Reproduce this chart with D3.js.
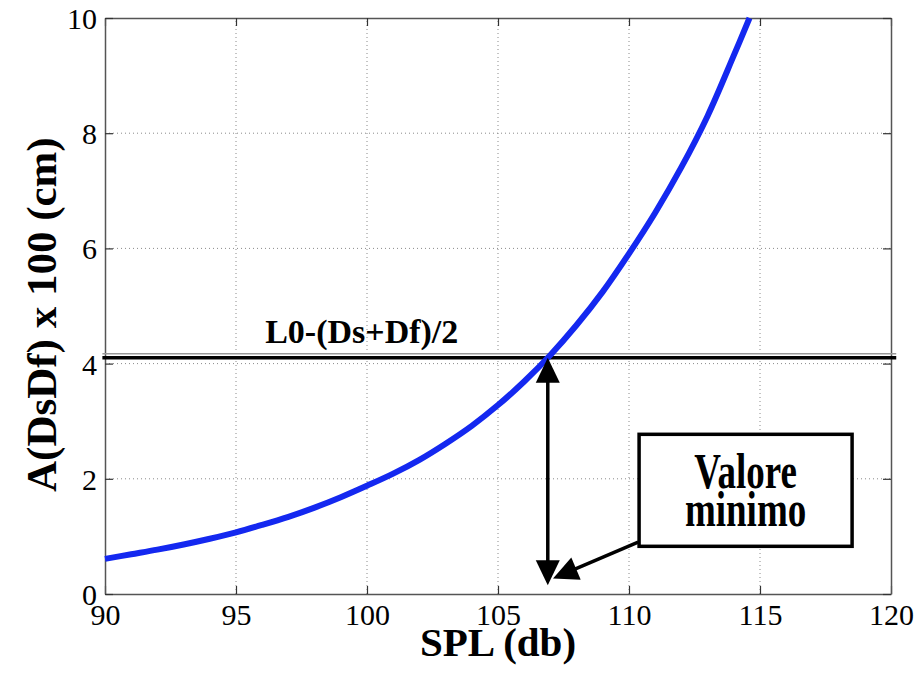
<!DOCTYPE html>
<html>
<head>
<meta charset="utf-8">
<script src="https://cdn.jsdelivr.net/npm/d3@7"></script>
<style>
  body { margin: 0; background: #fff; }
  svg { display: block; }
</style>
</head>
<body>
<script>
// values
let splValues = [90, 91, 92, 93, 94, 95, 96, 97, 98, 99, 100, 101, 102, 103, 104, 105, 106, 107, 108, 109, 110, 111, 112, 113, 114, 114.6];
let aValues   = [0.61, 0.69, 0.77, 0.86, 0.96, 1.07, 1.20, 1.34, 1.50, 1.68, 1.88, 2.09, 2.33, 2.61, 2.92, 3.28, 3.69, 4.15, 4.67, 5.25, 5.91, 6.62, 7.41, 8.30, 9.35, 10.0];
let xTicks = [90, 95, 100, 105, 110, 115, 120];
let yTicks = [0, 2, 4, 6, 8, 10];
let levelValue = 4.1;
let levelLabel = "L0-(Ds+Df)/2";
let minimoX = 106.9;
let minimoRange = [4.1, 0.15];
let boxCenter = [114.45, 1.8];
let boxLines = ["Valore", "minimo"];
let pointerFrom = [110.35, 0.9];
let pointerTo = [107.1, 0.27];

function main() {
    let W = 920, H = 678;
    let margin = {left: 105, right: 29, top: 18, bottom: 84};
    let width = W - margin.left - margin.right;
    let height = H - margin.top - margin.bottom;
    let serif = "'Liberation Serif', 'Times New Roman', serif";

    let svg = d3.select("body").append("svg")
        .attr("width", W)
        .attr("height", H);

    let x = d3.scaleLinear().domain([90, 120]).range([margin.left, margin.left + width]);
    let y = d3.scaleLinear().domain([0, 10]).range([margin.top + height, margin.top]);

    // grid
    let grid = svg.append("g");
    grid.selectAll(".vg")
        .data(xTicks.slice(1, -1))
        .enter().append("line")
        .attr("x1", d => x(d)).attr("x2", d => x(d))
        .attr("y1", y(0)).attr("y2", y(10))
        .attr("stroke", "#8a8a8a").attr("stroke-width", 1)
        .attr("stroke-dasharray", "1,3");
    grid.selectAll(".hg")
        .data(yTicks.slice(1, -1))
        .enter().append("line")
        .attr("y1", d => y(d)).attr("y2", d => y(d))
        .attr("x1", x(90)).attr("x2", x(120))
        .attr("stroke", "#8a8a8a").attr("stroke-width", 1)
        .attr("stroke-dasharray", "1,3");

    // axes
    let xAxis = svg.append("g")
        .attr("transform", "translate(0," + y(0) + ")")
        .call(d3.axisBottom(x).tickValues(xTicks).tickSizeInner(-8).tickSizeOuter(0).tickPadding(10));
    let xAxisTop = svg.append("g")
        .attr("transform", "translate(0," + y(10) + ")")
        .call(d3.axisTop(x).tickValues(xTicks).tickSizeInner(-8).tickSizeOuter(0).tickFormat(""));
    let yAxis = svg.append("g")
        .attr("transform", "translate(" + x(90) + ",0)")
        .call(d3.axisLeft(y).tickValues(yTicks).tickSizeInner(-8).tickSizeOuter(0).tickPadding(8));
    let yAxisRight = svg.append("g")
        .attr("transform", "translate(" + x(120) + ",0)")
        .call(d3.axisRight(y).tickValues(yTicks).tickSizeInner(-8).tickSizeOuter(0).tickFormat(""));

    [xAxis, xAxisTop, yAxis, yAxisRight].forEach(function(g) {
        g.attr("font-family", null).attr("font-size", null);
        g.select(".domain").attr("stroke", "#555").attr("stroke-width", 1.5);
        g.selectAll(".tick line").attr("stroke", "#333").attr("stroke-width", 1.2);
        g.selectAll("text")
            .style("font-family", serif)
            .style("font-size", "30px")
            .attr("fill", "#000");
    });
    xAxis.selectAll("text").attr("dy", "0.71em");
    yAxis.selectAll("text").attr("dy", "0.35em");

    // level line
    svg.append("line")
        .attr("x1", x(89.9)).attr("x2", x(120.2))
        .attr("y1", y(levelValue) - 4).attr("y2", y(levelValue) - 4)
        .attr("stroke", "#999").attr("stroke-width", 1.5);
    svg.append("line")
        .attr("x1", x(89.9)).attr("x2", x(120.2))
        .attr("y1", y(levelValue)).attr("y2", y(levelValue))
        .attr("stroke", "#000").attr("stroke-width", 3.5);
    svg.append("text")
        .attr("x", x(99.8))
        .attr("y", y(levelValue) - 15)
        .attr("text-anchor", "middle")
        .style("font-family", serif)
        .style("font-weight", "bold")
        .style("font-size", "34px")
        .text(levelLabel);

    // curve
    let line = d3.line()
        .x((d, i) => x(splValues[i]))
        .y(d => y(d))
        .curve(d3.curveCatmullRom);
    svg.append("path")
        .attr("d", line(aValues))
        .attr("fill", "none")
        .attr("stroke", "#1428f0")
        .attr("stroke-width", 6);

    // arrows
    function arrowHead(x0, y0, x1, y1, len, half) {
        let dx = x1 - x0, dy = y1 - y0;
        let L = Math.sqrt(dx * dx + dy * dy);
        let ux = dx / L, uy = dy / L;
        let bx = x1 - ux * len, by = y1 - uy * len;
        let pts = [[x1, y1], [bx - uy * half, by + ux * half], [bx + uy * half, by - ux * half]];
        svg.append("path")
            .attr("d", "M" + pts.join("L") + "Z")
            .attr("fill", "#000");
    }

    let ax = x(minimoX);
    let ya = y(minimoRange[0]), yb = y(minimoRange[1]);
    svg.append("line")
        .attr("x1", ax).attr("x2", ax)
        .attr("y1", ya + 20).attr("y2", yb - 20)
        .attr("stroke", "#000").attr("stroke-width", 3.5);
    arrowHead(ax, yb, ax, ya, 25, 12);
    arrowHead(ax, ya, ax, yb, 25, 12);

    let px0 = x(pointerFrom[0]), py0 = y(pointerFrom[1]);
    let px1 = x(pointerTo[0]), py1 = y(pointerTo[1]);
    svg.append("line")
        .attr("x1", px0).attr("y1", py0)
        .attr("x2", px1 + (px0 - px1) * 0.25).attr("y2", py1 + (py0 - py1) * 0.25)
        .attr("stroke", "#000").attr("stroke-width", 3.5);
    arrowHead(px0, py0, px1, py1, 25, 12);

    // annotation box
    let bw = 213, bh = 112;
    let cx = x(boxCenter[0]), cy = y(boxCenter[1]);
    svg.append("rect")
        .attr("x", cx - bw / 2).attr("y", cy - bh / 2)
        .attr("width", bw).attr("height", bh)
        .attr("fill", "#fff")
        .attr("stroke", "#000").attr("stroke-width", 3.5);
    svg.selectAll(".boxtext")
        .data(boxLines)
        .enter().append("text")
        .attr("transform", (d, i) => "translate(" + cx + "," + (cy - 2 + i * 38) + ") scale(1,1.35)")
        .attr("text-anchor", "middle")
        .style("font-family", serif)
        .style("font-weight", "bold")
        .style("font-size", "37px")
        .text(d => d);

    // axis titles
    svg.append("text")
        .attr("x", x(105))
        .attr("y", 656)
        .attr("text-anchor", "middle")
        .style("font-family", serif)
        .style("font-weight", "bold")
        .style("font-size", "41px")
        .text("SPL (db)");
    svg.append("text")
        .attr("transform", "translate(56," + y(4.85) + ") rotate(-90)")
        .attr("text-anchor", "middle")
        .style("font-family", serif)
        .style("font-weight", "bold")
        .style("font-size", "43px")
        .text("A(DsDf) x 100 (cm)");
}

main();
</script>
</body>
</html>
